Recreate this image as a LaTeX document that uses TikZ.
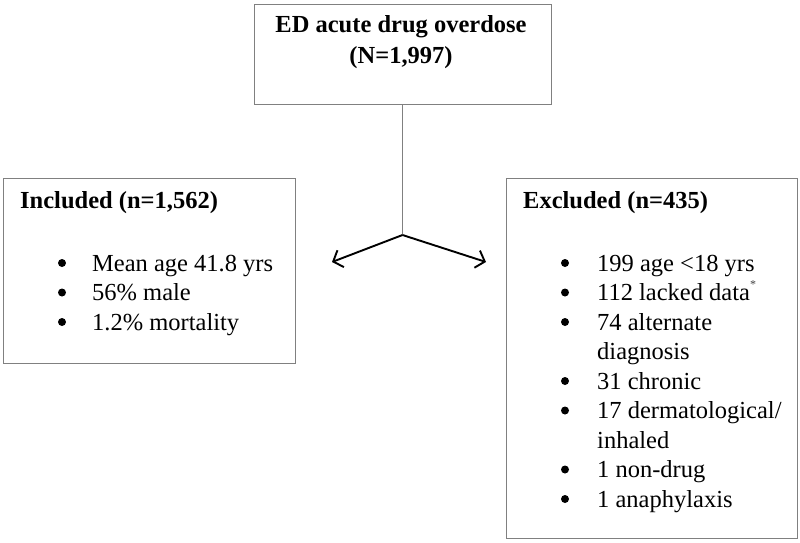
\documentclass[tikz,border=0pt]{standalone}
\usepackage{fontspec}
\setmainfont{Liberation Serif}
\usetikzlibrary{arrows.meta}
\definecolor{boxgray}{RGB}{128,128,128}

\begin{document}
\begin{tikzpicture}[x=1pt,y=-1pt,font=\fontsize{24.5}{29.5}\selectfont]
	\tikzstyle{box}=[rectangle,draw=boxgray,line width=1pt,inner sep=0pt]
	\tikzstyle{head}=[anchor=base west,inner sep=0pt,font=\fontsize{24.5}{29.5}\selectfont\bfseries]
	\tikzstyle{title}=[anchor=base,inner sep=0pt,font=\fontsize{24.5}{29.5}\selectfont\bfseries]
	\tikzstyle{item}=[anchor=base west,inner sep=0pt]
	\tikzstyle{dot}=[circle,fill=black,minimum size=8pt,inner sep=0pt]
	\tikzstyle{link}=[draw=boxgray,line width=1pt]
	\tikzstyle{split}=[black,line width=1.9pt,-{Straight Barb[length=8pt,width=18pt]}]
	\useasboundingbox (0,0) rectangle (800,542);

	\node[box, minimum width=297pt, minimum height=100pt] (ED) at (402.5,54) {};
	\node[box, minimum width=292pt, minimum height=185pt] (Inc) at (149,270.5) {};
	\node[box, minimum width=291pt, minimum height=360pt] (Exc) at (651.5,358) {};

	\node[title] (EDa) at (401,32) {ED acute drug overdose};
	\node[title] (EDb) at (401,63) {(N=1,997)};

	% included
	\node[head] (IncH) at (20,208) {Included (n=1,562)};
	\foreach \y/\t [count=\i] in {271/{Mean age 41.8 yrs}, 300.5/{56\% male}, 330/{1.2\% mortality}}{
		\node[dot] (IncB\i) at (62,\y-8) {};
		\node[item] (IncT\i) at (92,\y) {\t};
	}

	% excluded
	\node[head] (ExcH) at (523,208) {Excluded (n=435)};
	\foreach \y/\t [count=\i] in {271/{199 age <18 yrs}, 300.5/{112 lacked data\raisebox{12pt}{\fontsize{12}{12}\selectfont\color{darkgray}*}}, 330/{74 alternate}, 389/{31 chronic}, 418.5/{17 dermatological/}, 477.5/{1 non-drug}, 507/{1 anaphylaxis}}{
		\node[dot] (ExcB\i) at (565,\y-8) {};
		\node[item] (ExcT\i) at (597,\y) {\t};
	}
	\node[item] (ExcC1) at (597,359.5) {diagnosis};
	\node[item] (ExcC2) at (597,448) {inhaled};

	\coordinate (fork) at (402.5,235);
	\coordinate (tipL) at (332,262);
	\coordinate (tipR) at (486,262);

	\draw[link] (ED.south) -- (fork);
	\draw[split] (fork) -- (tipL);
	\draw[split] (fork) -- (tipR);
\end{tikzpicture}
\end{document}
